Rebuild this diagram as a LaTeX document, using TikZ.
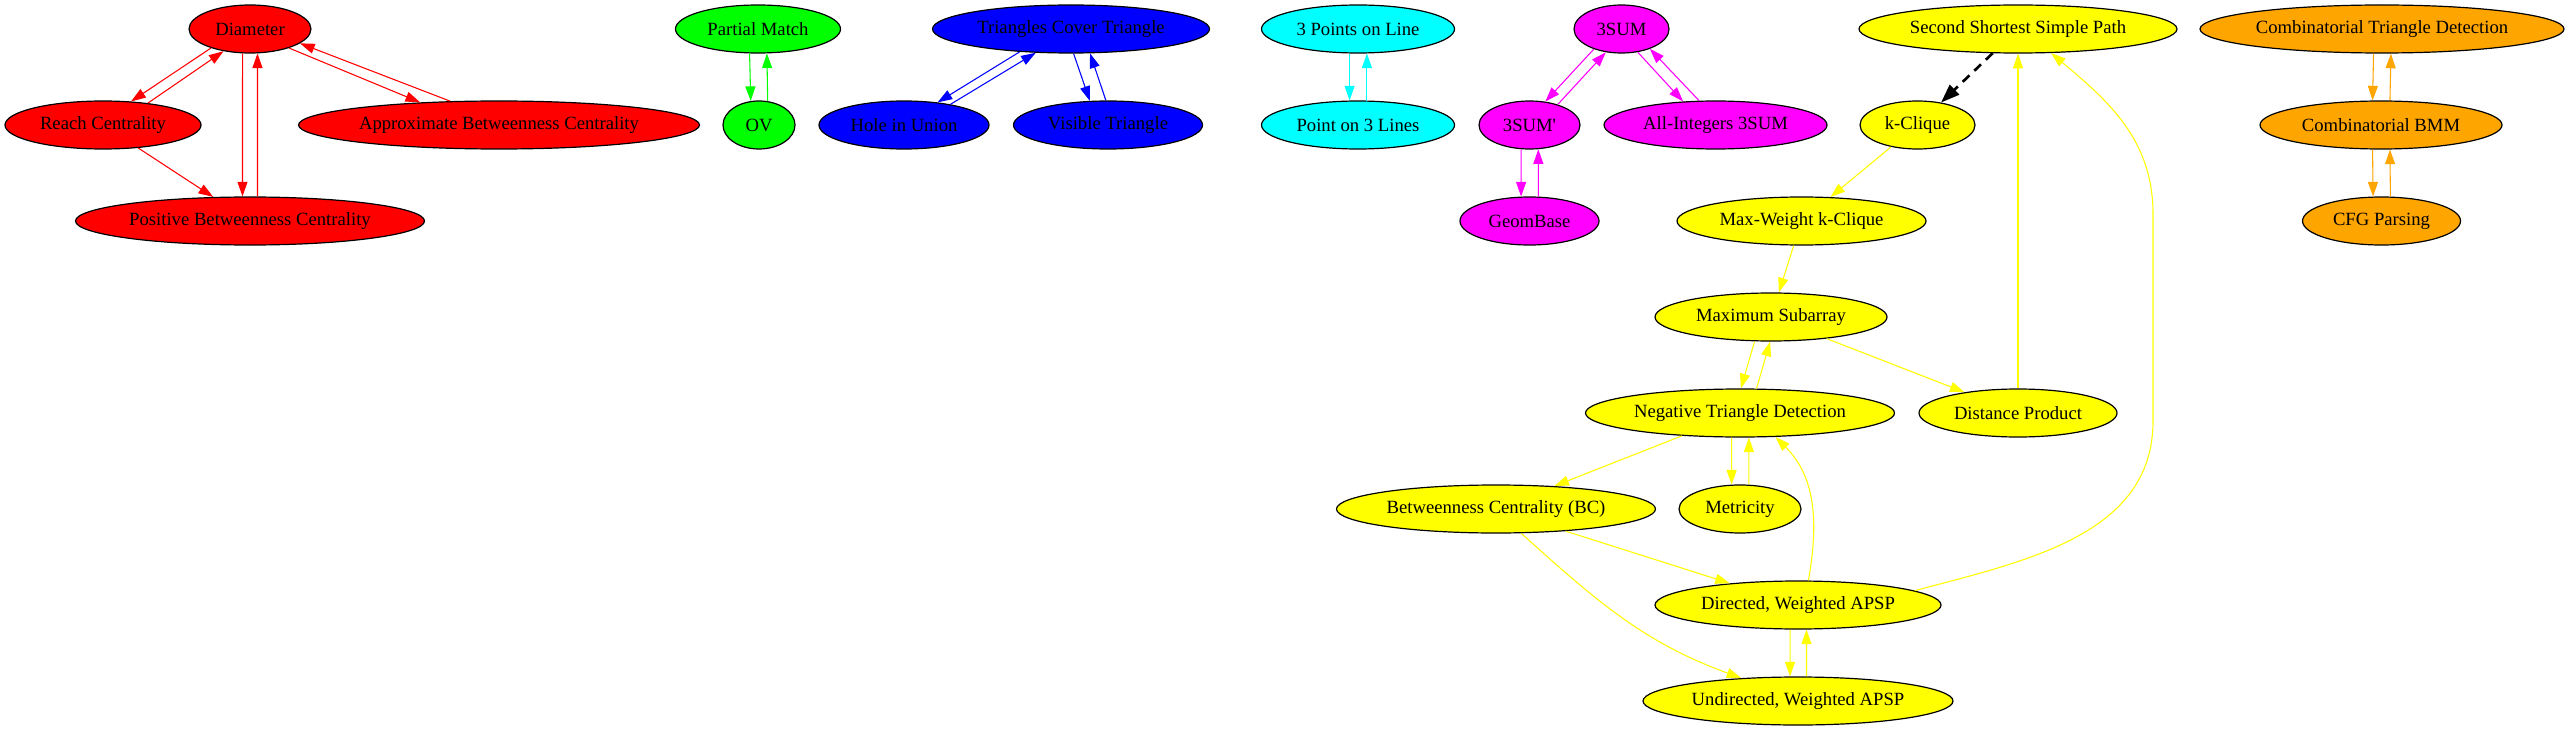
\documentclass[tikz,border=0pt]{standalone}
\usepackage{fontspec}
\setmainfont{Liberation Serif}
\usetikzlibrary{shapes.geometric,arrows.meta}
\tikzset{>={Triangle[length=11pt,width=7.5pt]}}
\definecolor{gvred}{rgb}{1,0,0}
\definecolor{gvgreen}{rgb}{0,1,0}
\definecolor{gvblue}{rgb}{0,0,1}
\definecolor{gvcyan}{rgb}{0,1,1}
\definecolor{gvmagenta}{rgb}{1,0,1}
\definecolor{gvyellow}{rgb}{1,1,0}
\definecolor{gvorange}{rgb}{1,0.647,0}
\tikzset{
  problem/.style = {
    ellipse, draw=black, line width=0.9pt, inner sep=0pt,
    minimum height=36pt, font=\fontsize{14}{16}\selectfont
  },
  wd/.style = {minimum width=#1*0.75pt},
  reduction/.style = {->, line width=0.8pt},
  strong/.style = {->, black, line width=2pt, dash pattern=on 7pt off 5pt,
    >={Triangle[length=14pt,width=10pt]}}
}

\begin{document}
\begin{tikzpicture}[x=0.75pt,y=0.75pt]
  \useasboundingbox (0,0) rectangle (2569,-731);
  % red
  \node[problem, fill=gvred, wd=122] (diam)   at (250,-29)  {Diameter};
  \node[problem, fill=gvred, wd=196] (reach)  at (103,-125) {Reach Centrality};
  \node[problem, fill=gvred, wd=401] (approx) at (499,-125) {Approximate Betweenness Centrality};
  \node[problem, fill=gvred, wd=349] (pos)    at (250,-221) {Positive Betweenness Centrality};
  \draw[reduction, gvred] (diam.206) -- (reach.40);
  \draw[reduction, gvred] (reach.26) -- (diam.220);
  \draw[reduction, gvred] (diam.-26) -- (approx.164);
  \draw[reduction, gvred] (approx.154) -- (diam.-16);
  \draw[reduction, gvred] (diam.-107) -- (pos.107);
  \draw[reduction, gvred] (pos.73) -- (diam.-73);
  \draw[reduction, gvred] (reach) -- (pos);
  % green
  \node[problem, fill=gvgreen, wd=165] (pmatch) at (758,-29)  {Partial Match};
  \node[problem, fill=gvgreen, wd=72]  (ov)     at (759,-125) {OV};
  \draw[reduction, gvgreen] (pmatch.-109.5) -- (ov.109.5);
  \draw[reduction, gvgreen] (ov.70.5) -- (pmatch.-70.5);
  % blue
  \node[problem, fill=gvblue, wd=277] (tct)  at (1071,-29)  {Triangles Cover Triangle};
  \node[problem, fill=gvblue, wd=170] (hole) at (904,-125)  {Hole in Union};
  \node[problem, fill=gvblue, wd=189] (vis)  at (1108,-125) {Visible Triangle};
  \draw[reduction, gvblue] (tct.204.9) -- (hole.34.9);
  \draw[reduction, gvblue] (hole.24.9) -- (tct.214.9);
  \draw[reduction, gvblue] (tct.-84.9) -- (vis.127.1);
  \draw[reduction, gvblue] (vis.95.1) -- (tct.-52.9);
  % cyan
  \node[problem, fill=gvcyan, wd=193] (threep) at (1358,-29)  {3 Points on Line};
  \node[problem, fill=gvcyan, wd=193] (pointl) at (1358,-125) {Point on 3 Lines};
  \draw[reduction, gvcyan] (threep.-109.5) -- (pointl.109.5);
  \draw[reduction, gvcyan] (pointl.70.5) -- (threep.-70.5);
  % magenta
  \node[problem, fill=gvmagenta, wd=95]  (tsum)   at (1621.5,-29)  {3SUM};
  \node[problem, fill=gvmagenta, wd=101] (tsump)  at (1529.5,-125) {3SUM\textquotesingle};
  \node[problem, fill=gvmagenta, wd=223] (allint) at (1715.5,-125) {All-Integers 3SUM};
  \node[problem, fill=gvmagenta, wd=139] (geom)   at (1529.5,-221) {GeomBase};
  \draw[reduction, gvmagenta] (tsum.216.2) -- (tsump.56.2);
  \draw[reduction, gvmagenta] (tsump.36.2) -- (tsum.236.2);
  \draw[reduction, gvmagenta] (tsum.-55.6) -- (allint.144.4);
  \draw[reduction, gvmagenta] (allint.124.4) -- (tsum.-35.6);
  \draw[reduction, gvmagenta] (tsump.-109.5) -- (geom.109.5);
  \draw[reduction, gvmagenta] (geom.70.5) -- (tsump.-70.5);
  % yellow
  \node[problem, fill=gvyellow, wd=318] (sssp)  at (2018,-29)    {Second Shortest Simple Path};
  \node[problem, fill=gvyellow, wd=115] (kcl)   at (1917.5,-125) {k-Clique};
  \node[problem, fill=gvyellow, wd=249] (mwk)   at (1801.5,-221) {Max-Weight k-Clique};
  \node[problem, fill=gvyellow, wd=232] (msub)  at (1771,-317)   {Maximum Subarray};
  \node[problem, fill=gvyellow, wd=309] (neg)   at (1740,-413)   {Negative Triangle Detection};
  \node[problem, fill=gvyellow, wd=198] (dist)  at (2018,-413)   {Distance Product};
  \node[problem, fill=gvyellow, wd=319] (bc)    at (1496,-509)   {Betweenness Centrality (BC)};
  \node[problem, fill=gvyellow, wd=122] (metr)  at (1740,-509)   {Metricity};
  \node[problem, fill=gvyellow, wd=286] (dapsp) at (1798,-605)   {Directed, Weighted APSP};
  \node[problem, fill=gvyellow, wd=310] (uapsp) at (1798,-701)   {Undirected, Weighted APSP};
  \coordinate (dsA) at (2153,-421);
  \coordinate (dsB) at (2153,-214);
  \draw[strong] (sssp) -- (kcl);
  \draw[reduction, gvyellow] (kcl) -- (mwk);
  \draw[reduction, gvyellow] (mwk) -- (msub);
  \draw[reduction, gvyellow] (msub.236.1) -- (neg.88.1);
  \draw[reduction, gvyellow] (neg.56.1) -- (msub.268.1);
  \draw[reduction, gvyellow] (msub) -- (dist);
  \draw[reduction, gvyellow] (dist) -- (sssp);
  \draw[reduction, gvyellow] (neg) -- (bc);
  \draw[reduction, gvyellow] (neg.-109.5) -- (metr.109.5);
  \draw[reduction, gvyellow] (metr.70.5) -- (neg.-70.5);
  \draw[reduction, gvyellow] (bc) -- (dapsp);
  \draw[reduction, gvyellow] (bc.-44) to[out=-42,in=160] (uapsp.158);
  \draw[reduction, gvyellow] (dapsp.67) to[out=80,in=-45] (neg.-34);
  \draw[reduction, gvyellow] (dapsp.-108.5) -- (uapsp.108.5);
  \draw[reduction, gvyellow] (uapsp.71.5) -- (dapsp.-71.5);
  \draw[reduction, gvyellow] (dapsp.7) to[out=15,in=-90] (dsA) -- (dsB)
    to[out=90,in=-40] (sssp.-36);
  % orange
  \node[problem, fill=gvorange, wd=364] (ctd) at (2382,-29)    {Combinatorial Triangle Detection};
  \node[problem, fill=gvorange, wd=242] (bmm) at (2381,-125)   {Combinatorial BMM};
  \node[problem, fill=gvorange, wd=158] (cfg) at (2381.5,-221) {CFG Parsing};
  \draw[reduction, gvorange] (ctd.-109.5) -- (bmm.109.5);
  \draw[reduction, gvorange] (bmm.70.5) -- (ctd.-70.5);
  \draw[reduction, gvorange] (bmm.-109.5) -- (cfg.109.5);
  \draw[reduction, gvorange] (cfg.70.5) -- (bmm.-70.5);
\end{tikzpicture}
\end{document}
